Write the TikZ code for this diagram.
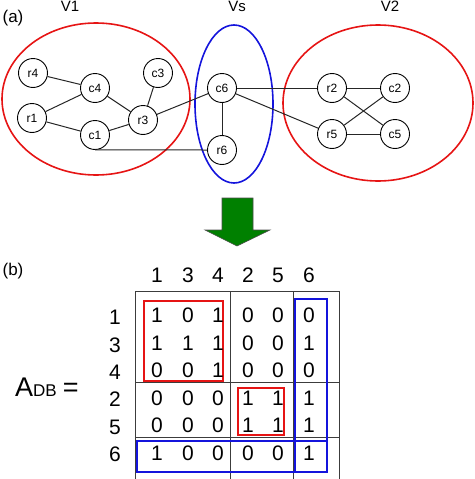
\documentclass[tikz,border=0pt]{standalone}
\usepackage{fontspec}
\setmainfont{Liberation Sans}
\definecolor{myred}{RGB}{230,20,20}
\definecolor{myblue}{RGB}{20,20,220}
\definecolor{mygreen}{RGB}{0,128,0}
\definecolor{gridgray}{RGB}{60,60,60}
\begin{document}
\begin{tikzpicture}[x=1pt,y=-1pt,
  vert/.style={circle,draw,line width=0.9pt,minimum size=29pt,inner sep=0pt,font=\fontsize{12}{13}\selectfont},
  edge/.style={line width=1pt,draw=black!85},
  redell/.style={draw=myred,line width=1.6pt},
  blueell/.style={draw=myblue,line width=1.6pt},
  lbl/.style={inner sep=0pt,anchor=base,font=\fontsize{15}{16}\selectfont},
  num/.style={inner sep=0pt,font=\fontsize{21}{22}\selectfont},
  gridline/.style={draw=gridgray,line width=0.8pt},
  redbox/.style={draw=myred,line width=1.3pt},
  bluebox/.style={draw=myblue,line width=1.6pt}]
\useasboundingbox (0,0) rectangle (474,479);
% ellipses
\draw[redell] (96,99) ellipse [x radius=94, y radius=76];
\draw[blueell] (234,104) ellipse [x radius=39, y radius=79];
\draw[redell] (378,103) ellipse [x radius=95, y radius=78];
% labels
\node[lbl,font=\fontsize{17}{18}\selectfont] (la) at (13,22) {(a)};
\node[lbl] (lv1) at (70,12) {V1};
\node[lbl] (lvs) at (237,11) {Vs};
\node[lbl] (lv2) at (390,11) {V2};
% vertices
\node[vert] (r4) at (33,73) {r4};
\node[vert] (c4) at (95,88) {c4};
\node[vert] (c3) at (158,73) {c3};
\node[vert] (r1) at (32,118) {r1};
\node[vert] (c1) at (95,135) {c1};
\node[vert] (r3) at (143,120) {r3};
\node[vert] (c6) at (222,88) {c6};
\node[vert] (r6) at (222,150) {r6};
\node[vert] (r2) at (332,88) {r2};
\node[vert] (c2) at (395,88) {c2};
\node[vert] (r5) at (332,134) {r5};
\node[vert] (c5) at (395,134) {c5};
% edges
\draw[edge] (r4) -- (c4);
\draw[edge] (r1) -- (c4);
\draw[edge] (r1) -- (c1);
\draw[edge] (c4) -- (r3);
\draw[edge] (c1) -- (r3);
\draw[edge] (c3) -- (r3);
\draw[edge] (r3) -- (c6);
\draw[edge] (c1.south) -- (r6.west);
\draw[edge] (c6) -- (r6);
\draw[edge] (c6) -- (r2);
\draw[edge] (c6) -- (r5);
\draw[edge] (r2) -- (c2);
\draw[edge] (r5) -- (c5);
\draw[edge] (r2) -- (c5);
\draw[edge] (r5) -- (c2);
% arrow
\draw[fill=mygreen,draw=black!70,line width=0.6pt] (222,198) -- (253,198) -- (253,230) -- (270,230) -- (237,246) -- (205,230) -- (222,230) -- cycle;
% (b)
\node[lbl,font=\fontsize{17}{18}\selectfont] (lb) at (13,275) {(b)};
% A_DB
\node[inner sep=0pt,anchor=base west] (adb) at (15,396) {\fontsize{27}{28}\selectfont A\fontsize{17}{18}\selectfont DB\hspace{6pt}\fontsize{27}{28}\selectfont =};
% grid
\draw[gridline] (135,479) -- (135,291) -- (339,291) -- (339,479);
\coordinate (v1t) at (230,291);
\coordinate (v1b) at (230,479);
\coordinate (v2t) at (293,291);
\coordinate (v2b) at (293,479);
\coordinate (h1l) at (135,382);
\coordinate (h1r) at (339,382);
\coordinate (h2l) at (135,437);
\coordinate (h2r) at (339,437);
\draw[gridline] (v1t) -- (v1b);
\draw[gridline] (v2t) -- (v2b);
\draw[gridline] (h1l) -- (h1r);
\draw[gridline] (h2l) -- (h2r);
% boxes
\draw[redbox] (144,301) rectangle (223,381);
\draw[redbox] (238,388) rectangle (284,435);
\draw[bluebox] (295,299) rectangle (327,472);
\draw[bluebox] (137,441) rectangle (327,472);
% headers
\foreach \x/\t in {157/1,188/3,218/4,248/2,278/5,309/6}
  \node[num] (h\t) at (\x,275) {\t};
\foreach \y/\t in {317/1,345/3,372/4,399/2,427/5,454/6}
  \node[num] (rl\t) at (115,\y) {\t};
% values
\foreach \y/\a/\b/\c/\d/\e/\f [count=\i] in {315/1/0/1/0/0/0,343/1/1/1/0/0/1,370/0/0/1/0/0/0,398/0/0/0/1/1/1,425/0/0/0/1/1/1,453/1/0/0/0/0/1}{
  \node[num] (m\i a) at (157,\y) {\a};
  \node[num] (m\i b) at (188,\y) {\b};
  \node[num] (m\i c) at (218,\y) {\c};
  \node[num] (m\i d) at (248,\y) {\d};
  \node[num] (m\i e) at (278,\y) {\e};
  \node[num] (m\i f) at (309,\y) {\f};
}
\end{tikzpicture}
\end{document}
